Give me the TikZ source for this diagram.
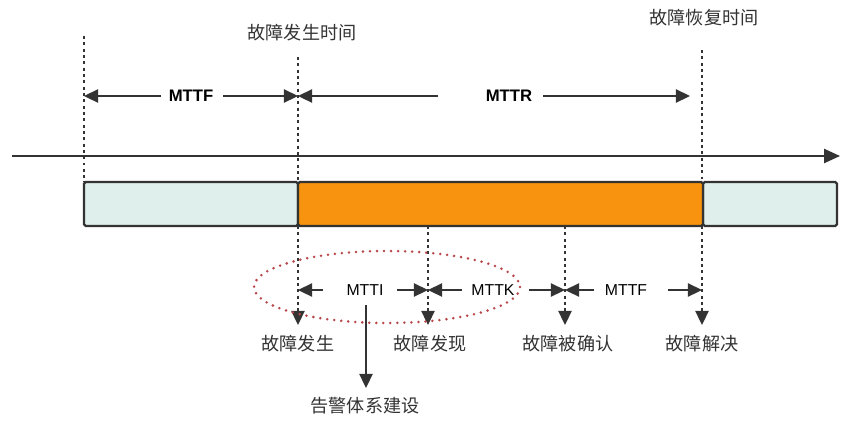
\documentclass[tikz,border=0pt]{standalone}
\usepackage{fontspec}
\setmainfont{Liberation Sans}
\newfontfamily\cjk{Noto Sans CJK SC}
\usetikzlibrary{arrows.meta}
\definecolor{ink}{HTML}{333333}
\definecolor{barorange}{HTML}{F7930E}
\definecolor{barlight}{HTML}{DFEFEB}
\definecolor{dotred}{HTML}{B8474A}
\tikzset{
  tip/.style={-{Triangle[length=8pt,width=7.5pt]}},
  arr/.style={draw=ink,line width=1pt,tip},
  guide/.style={draw=ink,line width=1.7pt,dash pattern=on 1.7pt off 1.9pt},
  bar/.style={draw=ink,line width=1.3pt,rounded corners=1pt},
  cn/.style={font=\cjk\fontsize{10.3}{12}\selectfont,text=ink,inner sep=1pt},
  bigm/.style={font=\bfseries\fontsize{9.5}{11}\selectfont,text=black,inner sep=1pt},
  smallm/.style={font=\fontsize{9}{11}\selectfont,text=black,inner sep=1pt},
}
\begin{document}
\begin{tikzpicture}[x=0.02cm,y=-0.02cm]
\useasboundingbox (0,0) rectangle (850,424);
\fill[white] (0,0) rectangle (850,424);

% timeline
\coordinate (tl0) at (12,156);
\coordinate (tl1) at (840,156);
\draw[ink,line width=1pt,-{Triangle[length=9pt,width=8pt]}] (tl0) -- (tl1);

% bars
\draw[bar,fill=barlight] (84,182) rectangle (298,226);
\draw[bar,fill=barlight] (703,182) rectangle (837,226);
\draw[bar,fill=barorange] (298,182) rectangle (703,226);

% top texts
\node[cn] (t1) at (302,33) {故障发生时间};
\node[cn] (t2) at (704,18) {故障恢复时间};

% guides (top)
\coordinate (g0a) at (84,36);  \coordinate (g0b) at (84,182);
\coordinate (g1a) at (298,57); \coordinate (g1b) at (298,182);
\coordinate (g2a) at (702,50); \coordinate (g2b) at (702,182);
\draw[guide] (g0a) -- (g0b);
\draw[guide] (g1a) -- (g1b);
\draw[guide] (g2a) -- (g2b);

% MTTF / MTTR
\node[bigm] (mttf) at (191,96) {MTTF};
\node[bigm] (mttr) at (509,96) {MTTR};
\coordinate (a0) at (84,96);
\coordinate (a1) at (298,96);
\coordinate (a2) at (690,96);
\coordinate (mttfL) at (161,96); \coordinate (mttfR) at (223,96);
\coordinate (mttrL) at (438,96); \coordinate (mttrR) at (543,96);
\draw[arr] (mttfL) -- (a0);
\draw[arr] (mttfR) -- (a1);
\draw[arr] (mttrL) -- (a1);
\draw[arr] (mttrR) -- (a2);

% lower guides
\foreach \n/\x in {p/298,q/428,r/565,s/702}{
  \coordinate (\n a) at (\x,226);
  \coordinate (\n b) at (\x,308);
  \coordinate (\n c) at (\x,325);
  \draw[guide] (\n a) -- (\n b);
  \draw[arr] (\n b) -- (\n c);
}

% lower labels
\node[cn] (l1) at (298,344) {故障发生};
\node[cn] (l2) at (430,344) {故障发现};
\node[cn] (l3) at (568,344) {故障被确认};
\node[cn] (l4) at (702,344) {故障解决};

% MTTI / MTTK / MTTF lower
\node[smallm] (mtti) at (365,290) {MTTI};
\node[smallm] (mttk) at (493,290) {MTTK};
\node[smallm] (mttf2) at (626,290) {MTTF};
\coordinate (b0) at (298,290);
\coordinate (b1) at (428,290);
\coordinate (b2) at (565,290);
\coordinate (b3) at (702,290);
\draw[arr] (323,290) -- (b0);
\draw[arr] (397,290) -- (b1);
\draw[arr] (462,290) -- (b1);
\draw[arr] (529,290) -- (b2);
\draw[arr] (594,290) -- (b2);
\draw[arr] (668,290) -- (b3);

% alarm arrow
\node[cn] (alarm) at (365,406) {告警体系建设};
\coordinate (al0) at (366,305);
\coordinate (al1) at (366,388);
\draw[arr] (al0) -- (al1);

% red dotted ellipse
\draw[dotred,line width=1.6pt,line cap=round,dash pattern=on 0pt off 4pt] (387,287) ellipse [x radius=133,y radius=36];
\end{tikzpicture}
\end{document}
